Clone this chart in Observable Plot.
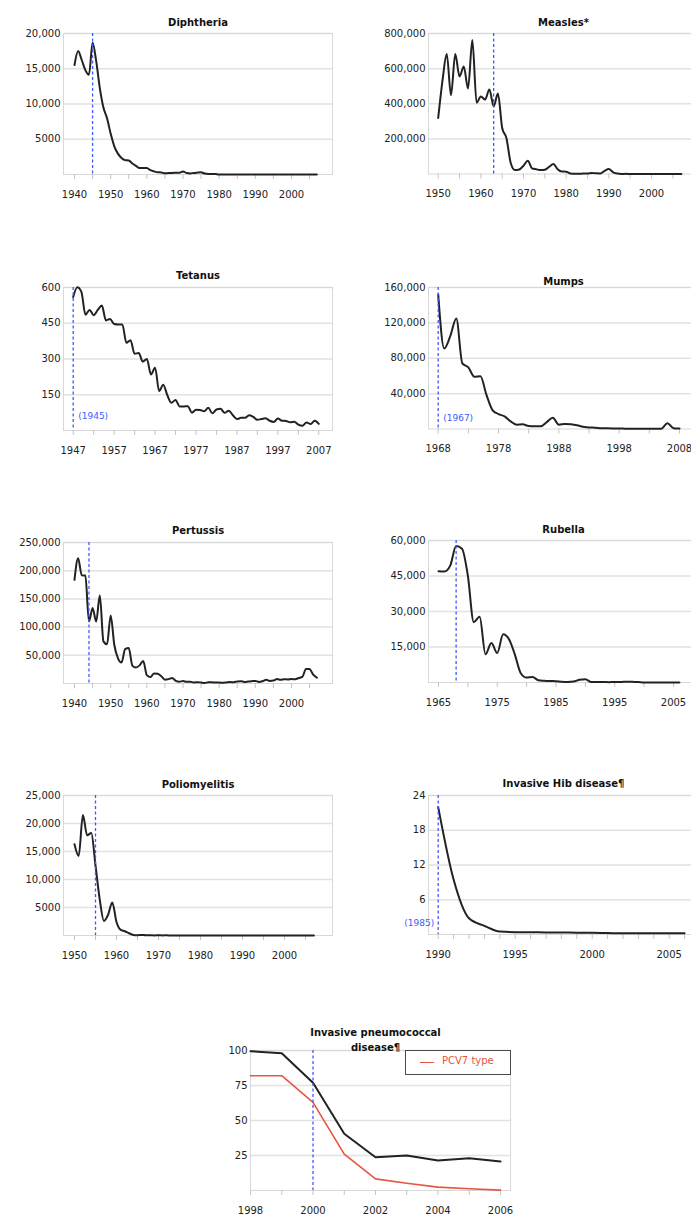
<!DOCTYPE html>
<html><head><meta charset="utf-8">
<script src="https://cdn.jsdelivr.net/npm/d3@7"></script>
<script src="https://cdn.jsdelivr.net/npm/@observablehq/plot@0.6"></script>
<style>
body{margin:0;background:#fff;}
#wrap{position:relative;width:691px;height:1218px;overflow:hidden;font-family:"DejaVu Sans",Verdana,sans-serif;background:#fff;}
#wrap svg{position:absolute;}
#legend{position:absolute;left:405px;top:1050px;width:104px;height:23px;border:1.5px solid #4a4a4a;background:#fff;}
#legend .sw{position:absolute;left:14px;top:11px;width:14px;height:0;border-top:1.5px solid #e8553f;}
#legend .lb{position:absolute;left:36px;top:4px;font-size:10px;color:#e8553f;font-family:"DejaVu Sans",sans-serif;white-space:nowrap;}
</style></head>
<body><div id="wrap"></div>
<script>
// ---- data ----
const diphtheriaStart = 1940;
const diphtheria = [15536,17512,16240,14811,14150,18675,16069,12262,9493,7969,
  5796,3983,2960,2355,2041,1984,1568,1211,918,934,
  918,617,444,314,293,164,209,219,260,241,
  435,215,152,228,272,307,128,84,76,59,
  3,5,2,5,1,3,0,3,2,3,
  4,5,4,0,2,0,2,4,1,1,
  1,2,1,1,0,0,0,0];
const measlesStart = 1950;
const measles = [319124,530118,683077,449146,682720,555156,611936,486799,763094,406162,
  441703,423919,481530,385156,458083,261904,204136,62705,22231,25826,
  47351,75290,32275,26690,22094,24374,41126,57345,26871,13597,
  13506,3124,1714,1497,2587,2822,6282,3655,3396,18193,
  27786,9643,2237,312,963,309,508,138,100,100,
  86,116,44,56,37,66,55,43];
const tetanusStart = 1947;
const tetanus = [560,601,582,
  486,506,484,506,524,462,468,447,445,445,
  368,379,322,325,289,300,235,263,165,192,
  148,116,128,101,101,102,75,87,86,81,
  95,72,88,91,74,83,64,48,53,53,
  64,57,45,48,51,41,36,50,41,40,
  35,37,25,20,34,27,41,28];
const mumpsStart = 1968;
const mumps = [152209,90918,
  104953,124939,74215,69612,59128,59647,38492,21436,16817,14225,
  8576,4941,5270,3355,3021,2982,7790,12848,4866,5712,
  5292,4264,2572,1692,1537,906,751,683,666,387,
  338,266,270,231,258,314,6584,800,454];
const pertussisStart = 1940;
const pertussis = [183866,222202,191890,191383,109873,133792,109860,156517,74715,69479,
  120718,68687,45030,37129,60886,62786,31732,28295,32148,40005,
  14809,11468,17749,17135,13005,6799,7717,9718,4810,3285,
  4249,3036,3287,1759,2402,1738,1010,2177,2063,1623,
  1730,1248,1895,2463,2276,3589,4195,2823,3450,4157,
  4570,2719,4083,6586,4617,5137,7796,6564,7405,7288,
  7867,7580,9771,11647,25827,25616,15632,10454];
const rubellaStart = 1965;
const rubella = [46975,46888,49371,57686,56552,45086,25507,27804,11917,16652,
  12491,20395,18269,11795,3904,2077,2325,970,752,630,
  551,306,225,396,1125,1401,160,192,227,128,
  238,181,364,267,176,23,18,7,10,11,
  11,12];
const polioStart = 1950;
const polio = [16300,14200,21500,17900,18300,12500,6500,2600,3700,5900,
  2400,1000,760,400,110,60,100,40,50,20,
  30,20,30,8,7,13,10,18,8,22,
  8,6,8,13,8,7,6,8,8,6,
  6,9,6,4,8,7,7,3,1,0,
  0,0,0,0,0,1,0,0];
const hibStart = 1990;
const hib = [22,9.5,2.8,1.5,0.5,0.4,0.4,0.35,0.35,0.3,0.3,0.25,0.2,0.2,0.2,0.2,0.2];
const pneumoYears = [1998,1999,2000,2001,2002,2003,2004,2005,2006];
const pneumoAll = [99.5,98,77,40.5,23.8,25,21.5,23,20.8];
const pneumoPCV7 = [82,82,63,26,8.3,5.2,2.4,1.2,0.3];

const titles = ["Diphtheria","Measles*","Tetanus","Mumps","Pertussis","Rubella","Poliomyelitis","Invasive Hib disease¶","Invasive pneumococcal\ndisease¶"];
const vaccineYears = {diphtheria:1945, measles:1963, tetanus:1947, mumps:1968, pertussis:1944, rubella:1968, polio:1955, hib:1990, pneumo:2000};
const notes = {tetanus:{year:1947, value:59, label:"(1945)"}, mumps:{year:1968, value:12800, label:"(1967)"}, hib:{year:1990, value:1.9, label:"(1985)"}};

// ---- helpers ----
const wrap = document.getElementById("wrap");
const fmt = d => d >= 10000 ? d3.format(",")(d) : String(d);
const series = (start, vals) => vals.map((v, i) => ({year: start + i, value: v}));
const range = (a, b, s) => d3.range(a, b + 1e-9, s);
const BLUE = "#3a5cff";

function panel(o) {
  const mt = 45, mb = 32, mr = o.mr ?? 13;
  const h = o.frameBottom - o.frameTop;
  const width = o.frameRight + mr - o.left;
  const height = mt + h + mb;
  const marks = [
    Plot.gridY(o.yTicks, {stroke: "#e2e2e2", strokeOpacity: 1, strokeWidth: 1.5}),
    Plot.frame({stroke: "#d8d8d8"}),
    Plot.axisX(o.minorTicks, {tickSize: 5, tickFormat: () => "", stroke: "#c4c4c4", label: null}),
    Plot.axisX(o.majorTicks, {tickSize: 0, tickPadding: 16, tickFormat: d => String(d), fontSize: 10, color: "#222", label: null}),
    Plot.axisY(o.yTicks, {tickSize: 0, tickPadding: 3, tickFormat: fmt, fontSize: 10, color: "#222", label: null}),
    ...o.lines.map(l => Plot.line(l.data, {x: "year", y: "value", curve: l.curve ?? "monotone-x",
      stroke: l.color ?? "#222", strokeWidth: l.width ?? 2})),
    Plot.ruleX([o.vline], {stroke: BLUE, strokeWidth: 1.3, strokeDasharray: "3,2.5"}),
    Plot.text([o.title], {frameAnchor: "top", dy: o.titleDy, dx: o.titleDx ?? 0, fontWeight: "bold",
      fontSize: 10, fill: "#111", lineHeight: 1.5})
  ];
  if (o.note) marks.push(Plot.text([o.note], {x: "year", y: "value", text: "label",
    textAnchor: o.noteAnchor ?? "start", dx: o.noteDx ?? 5, fill: BLUE, fontSize: 9}));
  const svg = Plot.plot({
    width, height, marginTop: mt, marginBottom: mb,
    marginLeft: o.frameLeft - o.left, marginRight: mr,
    style: {fontFamily: "'DejaVu Sans', sans-serif", background: "transparent", overflow: "visible"},
    x: {domain: o.xDomain, range: [o.xRange[0] - o.left, o.xRange[1] - o.left], label: null},
    y: {domain: [0, o.yMax], label: null},
    marks
  });
  svg.style.position = "absolute";
  svg.style.left = o.left + "px";
  svg.style.top = (o.frameTop - mt) + "px";
  wrap.appendChild(svg);
}

const L = {left: 0, frameLeft: 63, frameRight: 332};
const R = {left: 345, frameLeft: 428, frameRight: 698};

panel({...L, frameTop: 33, frameBottom: 174, title: titles[0], titleDy: -18,
  xDomain: [1940, 2000], xRange: [74, 291], majorTicks: range(1940, 2000, 10), minorTicks: range(1940, 2005, 5),
  yMax: 20000, yTicks: [5000, 10000, 15000, 20000],
  lines: [{data: series(diphtheriaStart, diphtheria)}], vline: vaccineYears.diphtheria});

panel({...R, frameTop: 33, frameBottom: 173.5, title: titles[1], titleDy: -18,
  xDomain: [1950, 2000], xRange: [437.7, 651], majorTicks: range(1950, 2000, 10), minorTicks: range(1950, 2005, 5),
  yMax: 800000, yTicks: [200000, 400000, 600000, 800000],
  lines: [{data: series(measlesStart, measles)}], vline: vaccineYears.measles});

panel({...L, frameTop: 287, frameBottom: 430, title: titles[2], titleDy: -19,
  xDomain: [1947, 2007], xRange: [72.7, 318.3], majorTicks: range(1947, 2007, 10), minorTicks: range(1947, 2007, 5),
  yMax: 600, yTicks: [150, 300, 450, 600],
  lines: [{data: series(tetanusStart, tetanus)}], vline: vaccineYears.tetanus, note: notes.tetanus});

panel({...R, frameTop: 287, frameBottom: 428.5, title: titles[3], titleDy: -13,
  xDomain: [1968, 2008], xRange: [437.7, 679], majorTicks: range(1968, 2008, 10), minorTicks: range(1968, 2008, 5),
  yMax: 160000, yTicks: [40000, 80000, 120000, 160000],
  lines: [{data: series(mumpsStart, mumps)}], vline: vaccineYears.mumps, note: notes.mumps});

panel({...L, frameTop: 542, frameBottom: 683, title: titles[4], titleDy: -19,
  xDomain: [1940, 2000], xRange: [74, 291], majorTicks: range(1940, 2000, 10), minorTicks: range(1940, 2005, 5),
  yMax: 250000, yTicks: [50000, 100000, 150000, 200000, 250000],
  lines: [{data: series(pertussisStart, pertussis)}], vline: vaccineYears.pertussis});

panel({...R, frameTop: 540, frameBottom: 682, title: titles[5], titleDy: -18,
  xDomain: [1965, 2005], xRange: [438, 673], majorTicks: range(1965, 2005, 10), minorTicks: range(1965, 2005, 5),
  yMax: 60000, yTicks: [15000, 30000, 45000, 60000],
  lines: [{data: series(rubellaStart, rubella)}], vline: vaccineYears.rubella});

panel({...L, frameTop: 795, frameBottom: 935, title: titles[6], titleDy: -18,
  xDomain: [1950, 2000], xRange: [74, 284], majorTicks: range(1950, 2000, 10), minorTicks: range(1950, 2005, 5),
  yMax: 25000, yTicks: [5000, 10000, 15000, 20000, 25000],
  lines: [{data: series(polioStart, polio)}], vline: vaccineYears.polio});

panel({...R, frameTop: 795, frameBottom: 934, title: titles[7], titleDy: -19,
  xDomain: [1990, 2005], xRange: [437.7, 668.7], majorTicks: range(1990, 2005, 5), minorTicks: range(1990, 2006, 1),
  yMax: 24, yTicks: [6, 12, 18, 24],
  lines: [{data: series(hibStart, hib)}], vline: vaccineYears.hib, note: notes.hib, noteAnchor: "end", noteDx: -4});

panel({left: 190, frameLeft: 250, frameRight: 510, frameTop: 1050, frameBottom: 1190, mr: 15,
  title: titles[8], titleDy: -25.5, titleDx: -5,
  xDomain: [1998, 2006], xRange: [250, 500], majorTicks: range(1998, 2006, 2), minorTicks: range(1998, 2006, 1),
  yMax: 100, yTicks: [25, 50, 75, 100],
  lines: [
    {data: pneumoYears.map((y, i) => ({year: y, value: pneumoAll[i]})), curve: "linear", width: 2},
    {data: pneumoYears.map((y, i) => ({year: y, value: pneumoPCV7[i]})), curve: "linear", color: "#e8553f", width: 1.6}
  ], vline: vaccineYears.pneumo});

// legend
const lg = document.createElement("div");
lg.id = "legend";
lg.innerHTML = '<div class="sw"></div><div class="lb">PCV7 type</div>';
wrap.appendChild(lg);
</script>
</body></html>
